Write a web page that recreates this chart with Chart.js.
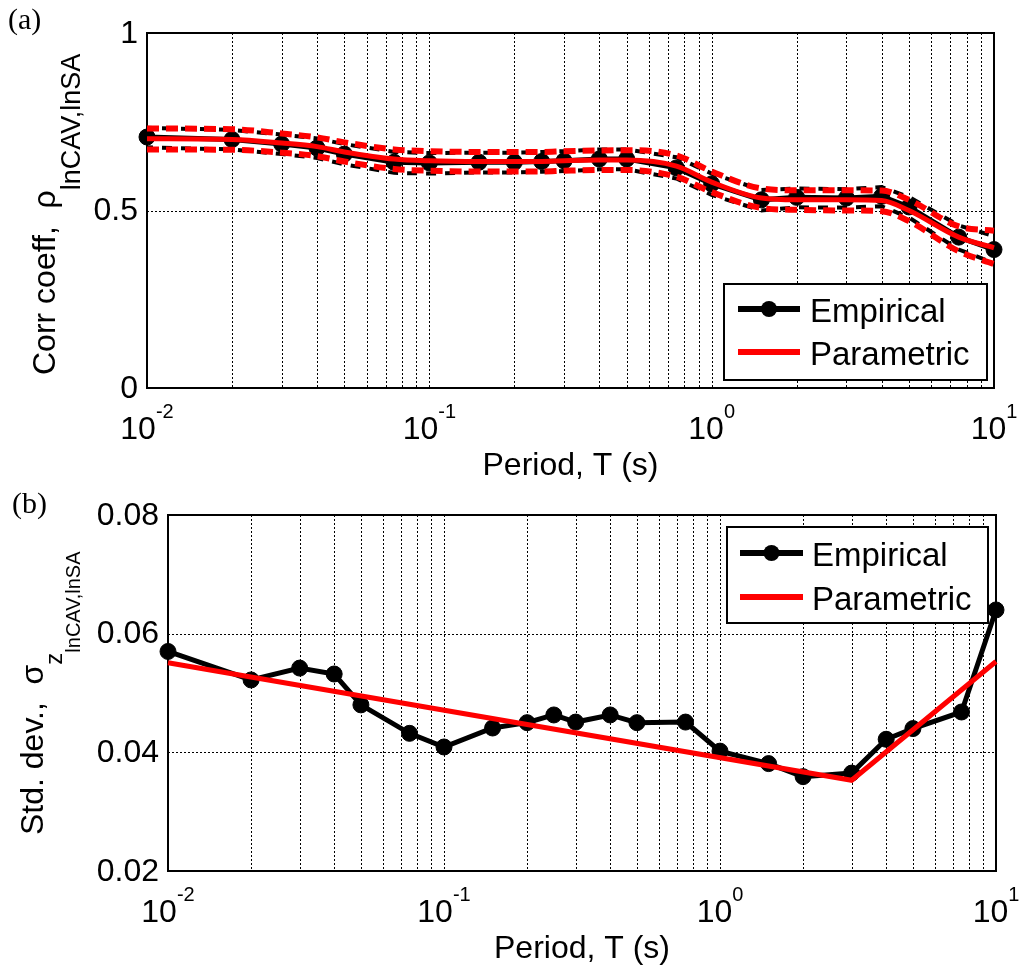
<!DOCTYPE html>
<html>
<head>
<meta charset="utf-8">
<script src="https://cdn.jsdelivr.net/npm/chart.js@4.4.1/dist/chart.umd.min.js"></script>
<style>
  html, body { margin: 0; padding: 0; background: #fff; }
  #wrap { position: relative; width: 1020px; height: 972px; }
  canvas { position: absolute; left: 0; }
</style>
</head>
<body>
<div id="wrap">
  <canvas id="chartA" width="1020" height="486" style="top:0px"></canvas>
  <canvas id="chartB" width="1020" height="486" style="top:486px"></canvas>
</div>
<script>
// periods (s) of the empirical estimates
const periods = [0.01, 0.02, 0.03, 0.04, 0.05, 0.075, 0.1, 0.15, 0.2, 0.25, 0.3, 0.4, 0.5, 0.75, 1, 1.5, 2, 3, 4, 5, 7.5, 10];

// panel (a): correlation coefficient
const rhoEmp   = [0.707, 0.700, 0.687, 0.676, 0.659, 0.636, 0.634, 0.636, 0.636, 0.638, 0.640, 0.645, 0.645, 0.620, 0.575, 0.530, 0.537, 0.535, 0.540, 0.510, 0.425, 0.390];
const rhoEmpUp = [0.733, 0.727, 0.714, 0.703, 0.687, 0.665, 0.662, 0.663, 0.663, 0.665, 0.667, 0.672, 0.672, 0.650, 0.604, 0.558, 0.562, 0.560, 0.566, 0.538, 0.458, 0.428];
const rhoEmpLo = [0.678, 0.672, 0.659, 0.648, 0.630, 0.606, 0.604, 0.607, 0.607, 0.609, 0.611, 0.616, 0.616, 0.590, 0.544, 0.500, 0.509, 0.508, 0.512, 0.480, 0.390, 0.352];
const rhoPar   = [0.702, 0.700, 0.690, 0.680, 0.665, 0.645, 0.640, 0.638, 0.638, 0.638, 0.640, 0.642, 0.642, 0.625, 0.580, 0.535, 0.530, 0.530, 0.528, 0.500, 0.425, 0.395];
const rhoParUp = [0.731, 0.729, 0.717, 0.706, 0.692, 0.672, 0.667, 0.665, 0.665, 0.665, 0.667, 0.669, 0.670, 0.655, 0.610, 0.562, 0.557, 0.557, 0.556, 0.530, 0.455, 0.443];
const rhoParLo = [0.672, 0.671, 0.663, 0.653, 0.638, 0.617, 0.612, 0.610, 0.610, 0.610, 0.612, 0.614, 0.614, 0.595, 0.552, 0.507, 0.502, 0.500, 0.498, 0.470, 0.385, 0.349];

// panel (b): standard deviation
const sigEmp  = [0.0570, 0.0522, 0.0542, 0.0532, 0.0480, 0.0432, 0.0409, 0.0441, 0.0450, 0.0463, 0.0451, 0.0463, 0.0450, 0.0451, 0.0402, 0.0381, 0.0359, 0.0365, 0.0422, 0.0440, 0.0468, 0.0640];
const sigParT = [0.01, 3, 10];
const sigPar  = [0.0551, 0.0353, 0.0553];

// axis ticks
const xDecadeExps = [-2, -1, 0, 1];
const yTicksA = [0, 0.5, 1];
const yTickLabelsA = ['0', '0.5', '1'];
const yTicksB = [0.02, 0.04, 0.06, 0.08];
const yTickLabelsB = ['0.02', '0.04', '0.06', '0.08'];

const SANS = '"Liberation Sans", Arial, sans-serif';
const SERIF = '"Liberation Serif", "Times New Roman", serif';

function pts(xs, ys) { return xs.map((x, i) => ({ x: x, y: ys[i] })); }

// grid positions 1..9 x 10^n on the log axis
const xGrid = [];
xDecadeExps.forEach(e => {
  for (let m = 1; m <= 9; m++) {
    const v = m * Math.pow(10, e);
    if (v <= 10.0001) xGrid.push(v);
  }
});

const deco = {
  id: 'deco',
  beforeDatasetsDraw(chart, args, o) {
    const ctx = chart.ctx, a = chart.chartArea;
    const xs = chart.scales.x, ys = chart.scales.y;
    ctx.save();
    ctx.strokeStyle = '#000';
    ctx.lineWidth = 1;
    ctx.setLineDash([2, 2]);
    xGrid.forEach(v => {
      const px = Math.round(xs.getPixelForValue(v)) + 0.5;
      ctx.beginPath(); ctx.moveTo(px, a.top); ctx.lineTo(px, a.bottom); ctx.stroke();
    });
    o.yTicks.forEach(v => {
      const py = Math.round(ys.getPixelForValue(v)) + 0.5;
      ctx.beginPath(); ctx.moveTo(a.left, py); ctx.lineTo(a.right, py); ctx.stroke();
    });
    ctx.setLineDash([]);
    ctx.lineWidth = 2;
    ctx.strokeRect(a.left, a.top, a.right - a.left, a.bottom - a.top);
    ctx.restore();
  },
  afterDraw(chart, args, o) {
    const ctx = chart.ctx, a = chart.chartArea;
    const xs = chart.scales.x, ys = chart.scales.y;
    ctx.save();
    ctx.fillStyle = '#000';

    // x tick labels 10^n
    xDecadeExps.forEach(e => {
      const px = xs.getPixelForValue(Math.pow(10, e));
      ctx.font = '32px ' + SANS;
      const wb = ctx.measureText('10').width;
      ctx.font = '20px ' + SANS;
      const we = ctx.measureText(String(e)).width;
      const x0 = px - (wb + we) / 2;
      ctx.textAlign = 'left';
      ctx.textBaseline = 'alphabetic';
      ctx.font = '32px ' + SANS;
      ctx.fillText('10', x0, o.xLabelY);
      ctx.font = '20px ' + SANS;
      ctx.fillText(String(e), x0 + wb, o.xLabelY - 21);
    });

    // y tick labels
    ctx.font = '32px ' + SANS;
    ctx.textAlign = 'right';
    ctx.textBaseline = 'middle';
    o.yTicks.forEach((v, i) => {
      ctx.fillText(o.yTickLabels[i], a.left - 9, ys.getPixelForValue(v) + 1);
    });

    // x title
    ctx.textAlign = 'center';
    ctx.textBaseline = 'alphabetic';
    ctx.fillText('Period, T (s)', (a.left + a.right) / 2, o.xTitleY);

    // y title with subscripts, rotated
    ctx.save();
    ctx.translate(o.yTitle.x, o.yTitle.y);
    ctx.rotate(-Math.PI / 2);
    ctx.textAlign = 'left';
    let cx = 0;
    o.yTitle.parts.forEach(p => {
      ctx.font = p.size + 'px ' + SANS;
      ctx.fillText(p.text, cx, p.dy);
      cx += ctx.measureText(p.text).width;
    });
    ctx.restore();

    // panel letter
    ctx.font = '30px ' + SERIF;
    ctx.textAlign = 'left';
    ctx.fillText(o.letter.text, o.letter.x, o.letter.y);

    // legend
    const L = o.legend;
    ctx.fillStyle = '#fff';
    ctx.fillRect(L.left, L.top, L.right - L.left, L.bottom - L.top);
    ctx.strokeStyle = '#000';
    ctx.lineWidth = 2;
    ctx.strokeRect(L.left, L.top, L.right - L.left, L.bottom - L.top);
    L.items.forEach((it, i) => {
      const ds = chart.data.datasets.find(d => d.label === it);
      const y = L.rows[i];
      ctx.strokeStyle = ds.borderColor;
      ctx.lineWidth = ds.borderWidth + 1;
      ctx.beginPath(); ctx.moveTo(L.lineX[0], y); ctx.lineTo(L.lineX[1], y); ctx.stroke();
      if (ds.pointRadius > 0) {
        ctx.fillStyle = ds.pointBackgroundColor;
        ctx.beginPath();
        ctx.arc((L.lineX[0] + L.lineX[1]) / 2, y, ds.pointRadius, 0, Math.PI * 2);
        ctx.fill();
      }
      ctx.fillStyle = '#000';
      ctx.font = '33px ' + SANS;
      ctx.textAlign = 'left';
      ctx.textBaseline = 'alphabetic';
      ctx.fillText(it, L.textX, y + 13);
    });
    ctx.restore();
  }
};

function baseScales(ymin, ymax) {
  return {
    x: {
      type: 'logarithmic', min: 0.01, max: 10,
      ticks: { display: false }, grid: { display: false }, border: { display: false },
      afterFit(s) { s.height = 0; }
    },
    y: {
      type: 'linear', min: ymin, max: ymax,
      ticks: { display: false }, grid: { display: false }, border: { display: false },
      afterFit(s) { s.width = 0; }
    }
  };
}

Chart.defaults.animation = false;

new Chart(document.getElementById('chartA'), {
  type: 'line',
  data: {
    datasets: [
      { label: 'Parametric', data: pts(periods, rhoPar), borderColor: '#ff0000', borderWidth: 5,
        pointRadius: 0, cubicInterpolationMode: 'monotone', order: 0, clip: false },
      { label: 'Parametric upper', data: pts(periods, rhoParUp), borderColor: '#ff0000', borderWidth: 6,
        borderDash: [12, 7], pointRadius: 0, cubicInterpolationMode: 'monotone', order: 1, clip: false },
      { label: 'Parametric lower', data: pts(periods, rhoParLo), borderColor: '#ff0000', borderWidth: 6,
        borderDash: [12, 7], pointRadius: 0, cubicInterpolationMode: 'monotone', order: 1, clip: false },
      { label: 'Empirical', data: pts(periods, rhoEmp), borderColor: '#000', borderWidth: 5,
        pointRadius: 8, pointBackgroundColor: '#000', pointBorderColor: '#000', pointBorderWidth: 1,
        order: 2, clip: false },
      { label: 'Empirical upper', data: pts(periods, rhoEmpUp), borderColor: '#000', borderWidth: 4,
        borderDash: [10, 9], borderDashOffset: 4, pointRadius: 0, order: 3, clip: false },
      { label: 'Empirical lower', data: pts(periods, rhoEmpLo), borderColor: '#000', borderWidth: 4,
        borderDash: [10, 9], borderDashOffset: 4, pointRadius: 0, order: 3, clip: false }
    ]
  },
  options: {
    responsive: false,
    devicePixelRatio: 1,
    layout: { padding: { left: 147, top: 33, right: 26, bottom: 98 } },
    scales: baseScales(0, 1),
    plugins: {
      legend: { display: false },
      tooltip: { enabled: false },
      deco: {
        yTicks: yTicksA, yTickLabels: yTickLabelsA,
        xLabelY: 439, xTitleY: 475,
        yTitle: { x: 55, y: 375, parts: [
          { text: 'Corr coeff,  \u03C1', size: 32, dy: 0 },
          { text: 'lnCAV,lnSA', size: 27, dy: 25 }
        ] },
        letter: { text: '(a)', x: 8, y: 29 },
        legend: { left: 724, top: 284, right: 987, bottom: 380, rows: [309, 352],
                  lineX: [738, 800], textX: 810, items: ['Empirical', 'Parametric'] }
      }
    }
  },
  plugins: [deco]
});

new Chart(document.getElementById('chartB'), {
  type: 'line',
  data: {
    datasets: [
      { label: 'Parametric', data: pts(sigParT, sigPar), borderColor: '#ff0000', borderWidth: 5,
        pointRadius: 0, order: 0, clip: false },
      { label: 'Empirical', data: pts(periods, sigEmp), borderColor: '#000', borderWidth: 5,
        pointRadius: 8, pointBackgroundColor: '#000', pointBorderColor: '#000', pointBorderWidth: 1,
        order: 1, clip: false }
    ]
  },
  options: {
    responsive: false,
    devicePixelRatio: 1,
    layout: { padding: { left: 168, top: 29, right: 24, bottom: 101 } },
    scales: baseScales(0.02, 0.08),
    plugins: {
      legend: { display: false },
      tooltip: { enabled: false },
      deco: {
        yTicks: yTicksB, yTickLabels: yTickLabelsB,
        xLabelY: 436, xTitleY: 472,
        yTitle: { x: 43, y: 349, parts: [
          { text: 'Std. dev.,  \u03C3', size: 32, dy: 0 },
          { text: 'z', size: 24, dy: 19 },
          { text: 'lnCAV,lnSA', size: 20, dy: 37 }
        ] },
        letter: { text: '(b)', x: 12, y: 27 },
        legend: { left: 727, top: 41, right: 988, bottom: 137, rows: [67, 111],
                  lineX: [740, 803], textX: 812, items: ['Empirical', 'Parametric'] }
      }
    }
  },
  plugins: [deco]
});
</script>
</body>
</html>
